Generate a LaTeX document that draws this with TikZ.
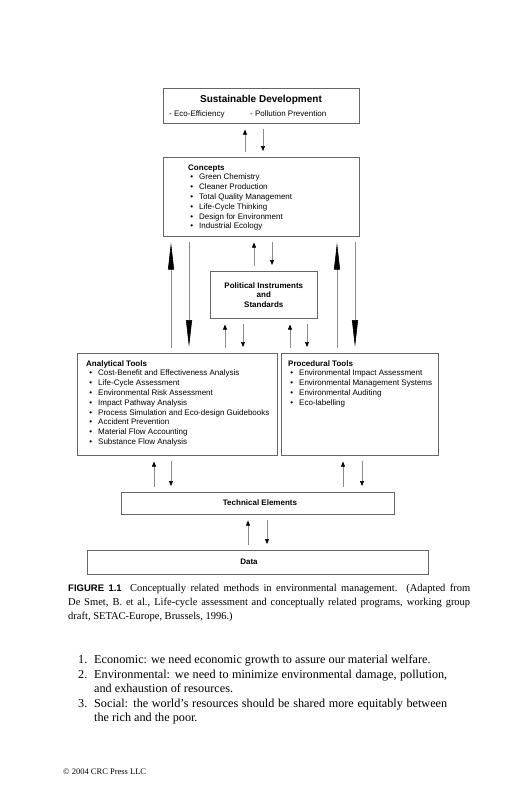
\documentclass[tikz,border=0pt]{standalone}
\usepackage{fontspec}
\setmainfont{Liberation Serif}
\newfontfamily\diagfont{Liberation Sans}
\usetikzlibrary{arrows.meta}
\tikzset{
  % --- nodes
  box/.style  = {draw=black!60, line width=0.6pt, inner sep=0pt, anchor=north west},
  ttl/.style  = {inner sep=0pt, align=center, font=\diagfont\bfseries\fontsize{8}{9.5}\selectfont},
  itm/.style  = {inner sep=0pt, anchor=base west, font=\diagfont\fontsize{8}{9.8}\selectfont},
  body/.style = {inner sep=0pt, anchor=base west, font=\fontsize{12.2}{14.5}\selectfont},
  capt/.style = {inner sep=0pt, anchor=base west, font=\fontsize{10.5}{14}\selectfont},
  % --- edges
  ar/.style   = {draw=black!45, line width=0.6pt, shorten <=5pt, shorten >=6pt,
                 -{Triangle[length=5pt,width=4pt,color=black]}},
  lar/.style  = {ar, -{Triangle[length=27pt,width=6pt,color=black]}},
}
\begin{document}
\begin{tikzpicture}[x=1pt,y=-1pt]
  \fill[white] (0,0) rectangle (518,800);
  \useasboundingbox (0,0) rectangle (518,800);

  % boxes
  \node[box, minimum width=196pt, minimum height=35pt]  (sd)       at (163,88)  {};
  \node[box, minimum width=196pt, minimum height=79pt]  (concepts) at (163,157) {};
  \node[box, minimum width=107pt, minimum height=47pt]  (polit)    at (210,271) {};
  \node[box, minimum width=200pt, minimum height=102pt] (analyt)   at (77,353)  {};
  \node[box, minimum width=157pt, minimum height=102pt] (proced)   at (281,353) {};
  \node[box, minimum width=273pt, minimum height=22pt]  (tech)     at (121,492) {};
  \node[box, minimum width=341pt, minimum height=24pt]  (data)     at (87,550)  {};

  % sustainable development
  \node[ttl, anchor=base, font=\diagfont\bfseries\fontsize{10}{12}\selectfont] (sdttl) at (261,102.5) {Sustainable Development};
  \node[itm] (sdeco) at (169,116) {- Eco-Efficiency};
  \node[itm] (sdpol) at (250,116) {- Pollution Prevention};

  % concepts
  \node[ttl, anchor=base west] (conttl) at (188,170) {Concepts};
  \foreach \tx [count=\i] in {Green Chemistry, Cleaner Production, Total Quality Management,
                             Life-Cycle Thinking, Design for Environment, Industrial Ecology}
    \node[itm] (con\i) at (199,{170+\i*9.8}) {\llap{\textbullet\hspace{6pt}}\tx};

  % political instruments
  \node[ttl] (polttl) at (polit.center) {Political Instruments\\and\\Standards};

  % analytical tools
  \node[ttl, anchor=base west] (anattl) at (86,366) {Analytical Tools};
  \foreach \tx [count=\i] in {Cost-Benefit and Effectiveness Analysis, Life-Cycle Assessment,
                             Environmental Risk Assessment, Impact Pathway Analysis,
                             Process Simulation and Eco-design Guidebooks, Accident Prevention,
                             Material Flow Accounting, Substance Flow Analysis}
    \node[itm] (ana\i) at (98,{366+\i*9.8}) {\llap{\textbullet\hspace{6pt}}\tx};

  % procedural tools
  \node[ttl, anchor=base west] (prottl) at (288,366) {Procedural Tools};
  \foreach \tx [count=\i] in {Environmental Impact Assessment, Environmental Management Systems,
                             Environmental Auditing, Eco-labelling}
    \node[itm] (pro\i) at (299,{366+\i*9.8}) {\llap{\textbullet\hspace{6pt}}\tx};

  % technical elements, data
  \node[ttl] (techttl) at (260,503) {Technical Elements};
  \node[ttl] (datattl) at (249,562) {Data};

  % two-way links
  \foreach \ux/\dx/\hi/\lo in {245/263/sd/concepts, 254/272/concepts/polit,
                               225/243/polit/analyt, 290/307/polit/proced,
                               154/171/analyt/tech, 343/362/proced/tech, 248/267/tech/data}
  {
    \draw[ar] (\ux,0 |- \lo.north) -- (\ux,0 |- \hi.south);
    \draw[ar] (\dx,0 |- \hi.south) -- (\dx,0 |- \lo.north);
  }
  \foreach \ux/\dx/\lo in {171/189/analyt, 337/355/proced}
  {
    \draw[lar] (\ux,0 |- \lo.north) -- (\ux,0 |- concepts.south);
    \draw[lar] (\dx,0 |- concepts.south) -- (\dx,0 |- \lo.north);
  }

  % caption
  \node[capt] (cap1) at (68,591) {\makebox[402pt][s]{{\diagfont\bfseries\fontsize{9.5}{12}\selectfont FIGURE 1.1}\hspace{4pt} Conceptually related methods in environmental management. (Adapted from}};
  \node[capt] (cap2) at (68,605) {\makebox[402pt][s]{De Smet, B. et al., Life-cycle assessment and conceptually related programs, working group}};
  \node[capt] (cap3) at (68,619) {draft, SETAC-Europe, Brussels, 1996.)};

  % running text
  \node[body] (num1) at (78,663.5) {1.};
  \node[body] (txt1) at (94,663.5) {Economic: we need economic growth to assure our material welfare.};
  \node[body] (num2) at (78,678) {2.};
  \node[body] (txt2) at (94,678) {\makebox[353pt][s]{Environmental: we need to minimize environmental damage, pollution,}};
  \node[body] (txt2b) at (94,692.5) {and exhaustion of resources.};
  \node[body] (num3) at (78,707) {3.};
  \node[body] (txt3) at (94,707) {\makebox[353pt][s]{Social: the world's resources should be shared more equitably between}};
  \node[body] (txt3b) at (94,721.5) {the rich and the poor.};

  \node[inner sep=0pt, anchor=base west, font=\fontsize{8.5}{10}\selectfont] (copy) at (63,774.5) {\textcopyright\ 2004 CRC Press LLC};
\end{tikzpicture}
\end{document}
